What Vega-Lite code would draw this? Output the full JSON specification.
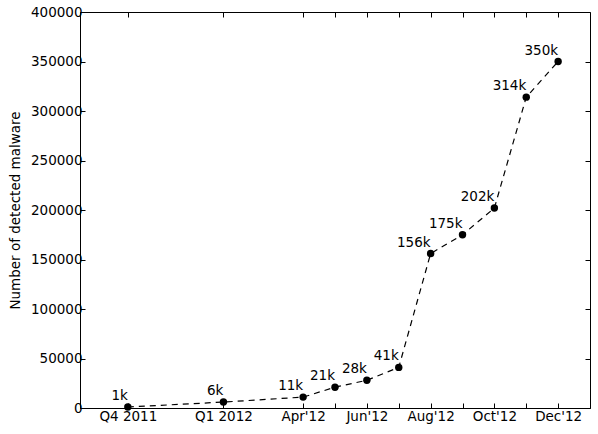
{
  "$schema": "https://vega.github.io/schema/vega-lite/v6.json",
  "width": 510,
  "height": 396,
  "autosize": {"type": "none"},
  "padding": {"left": 80, "top": 12, "right": 8, "bottom": 26},
  "background": "white",
  "config": {
    "font": "DejaVu Sans",
    "view": {"stroke": "black", "strokeWidth": 1},
    "axis": {
      "grid": false,
      "domainColor": "black",
      "tickColor": "black",
      "tickSize": -5,
      "labelColor": "black",
      "labelFont": "DejaVu Sans",
      "labelFontSize": 13.5,
      "titleFont": "DejaVu Sans",
      "titleFontSize": 13.5,
      "titleFontWeight": "normal",
      "titleColor": "black"
    }
  },
  "data": {
    "values": [
      {"t": 1.5, "count": 1000, "label": "1k", "tick": "Q4 2011"},
      {"t": 4.5, "count": 6000, "label": "6k", "tick": "Q1 2012"},
      {"t": 7, "count": 11000, "label": "11k", "tick": "Apr'12"},
      {"t": 8, "count": 21000, "label": "21k", "tick": ""},
      {"t": 9, "count": 28000, "label": "28k", "tick": "Jun'12"},
      {"t": 10, "count": 41000, "label": "41k", "tick": ""},
      {"t": 11, "count": 156000, "label": "156k", "tick": "Aug'12"},
      {"t": 12, "count": 175000, "label": "175k", "tick": ""},
      {"t": 13, "count": 202000, "label": "202k", "tick": "Oct'12"},
      {"t": 14, "count": 314000, "label": "314k", "tick": ""},
      {"t": 15, "count": 350000, "label": "350k", "tick": "Dec'12"}
    ]
  },
  "encoding": {
    "x": {
      "field": "t", "type": "quantitative", "axis": null,
      "scale": {"domain": [0, 16], "nice": false, "zero": false}
    },
    "y": {
      "field": "count", "type": "quantitative", "axis": null,
      "scale": {"domain": [0, 400000], "nice": false}
    }
  },
  "layer": [
    {
      "mark": {"type": "line", "color": "black", "strokeWidth": 1.2, "strokeDash": [6, 5]},
      "encoding": {
        "x": {
          "field": "t", "type": "quantitative",
          "axis": {
            "title": null,
            "values": [1.5, 4.5, 7, 8, 9, 10, 11, 12, 13, 14, 15],
            "labelExpr": "datum.value == 1.5 ? 'Q4 2011' : datum.value == 4.5 ? 'Q1 2012' : datum.value == 7 ? 'Apr\\'12' : datum.value == 9 ? 'Jun\\'12' : datum.value == 11 ? 'Aug\\'12' : datum.value == 13 ? 'Oct\\'12' : datum.value == 15 ? 'Dec\\'12' : ''",
            "labelPadding": 6,
            "labelFlush": false,
            "labelOverlap": false
          }
        },
        "y": {
          "field": "count", "type": "quantitative",
          "axis": {
            "title": "Number of detected malware",
            "values": [0, 50000, 100000, 150000, 200000, 250000, 300000, 350000, 400000],
            "format": "d",
            "labelPadding": 3,
            "titlePadding": 8,
            "labelFlush": false,
            "labelOverlap": false
          }
        }
      }
    },
    {
      "mark": {"type": "point", "filled": true, "color": "black", "opacity": 1, "size": 55},
      "encoding": {
        "x": {
          "field": "t", "type": "quantitative",
          "axis": {"orient": "top", "title": null, "labels": false, "domain": false,
                   "values": [1.5, 4.5, 7, 8, 9, 10, 11, 12, 13, 14, 15]}
        },
        "y": {
          "field": "count", "type": "quantitative",
          "axis": {"orient": "right", "title": null, "labels": false, "domain": false,
                   "values": [0, 50000, 100000, 150000, 200000, 250000, 300000, 350000, 400000]}
        }
      }
    },
    {
      "mark": {"type": "text", "align": "right", "baseline": "alphabetic", "dx": 0, "dy": -7, "fontSize": 13.5, "font": "DejaVu Sans", "color": "black"},
      "encoding": {"text": {"field": "label"}}
    }
  ],
  "resolve": {"axis": {"x": "independent", "y": "independent"}}
}
